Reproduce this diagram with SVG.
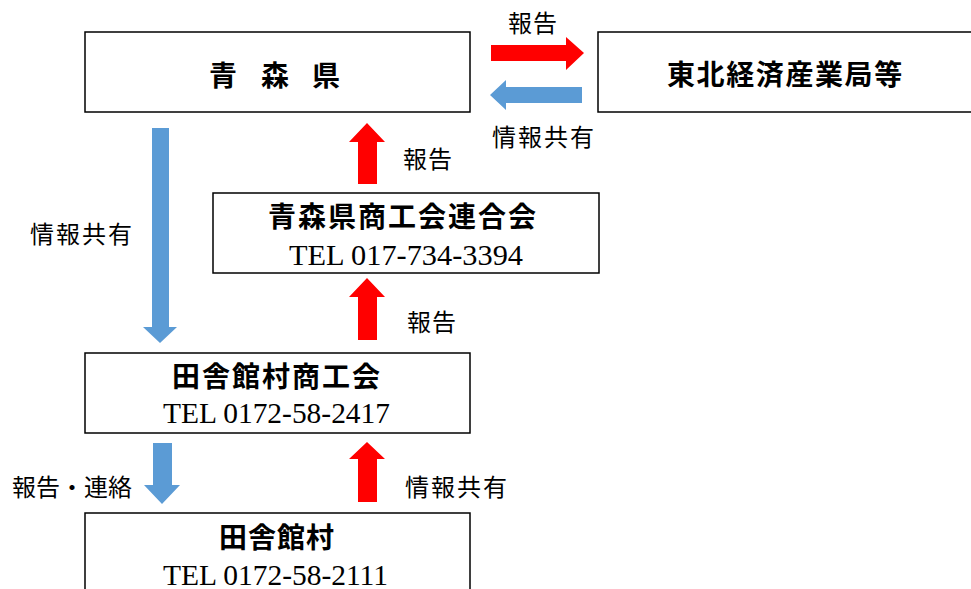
<svg xmlns="http://www.w3.org/2000/svg" width="971" height="589" viewBox="0 0 971 589">
<style>
.box{fill:#fff;stroke:#000;stroke-width:1.5}
.title{font-family:"Noto Sans CJK JP","Noto Sans CJK SC",sans-serif;font-weight:700;font-size:28px;fill:#000;dominant-baseline:central}
.tel{font-family:"Liberation Serif",serif;font-size:30px;fill:#000}
.lbl{font-family:"Noto Sans CJK JP","Noto Sans CJK SC",sans-serif;font-size:24px;fill:#000;dominant-baseline:central}
.red{fill:#FF0000}
.blue{fill:#5B9BD5}
</style>
<rect width="971" height="589" fill="#fff"/>
<g id="connectors">
<polygon class="red" points="491,45 566,45 566,37 584,53 566,70 566,61 491,61"/>
<polygon class="blue" points="582,87 506,87 506,80 490,95 506,110 506,103 582,103"/>
<polygon class="blue" points="152,128 169,128 169,327 177,327 160,343 143,327 152,327"/>
<polygon class="red" points="358,184 358,142 349,142 367,123 385,142 377,142 377,184"/>
<polygon class="red" points="358,340 358,297 349,297 367,278 385,297 377,297 377,340"/>
<polygon class="blue" points="153,443 172,443 172,485 180,485 162,504 144,485 153,485"/>
<polygon class="red" points="358,502 358,459 349,459 367,442 385,459 377,459 377,502"/>
<text class="lbl" x="508" y="21" letter-spacing="1">報告</text>
<text class="lbl" x="492" y="135" letter-spacing="2">情報共有</text>
<text class="lbl" x="403" y="157" letter-spacing="1">報告</text>
<text class="lbl" x="407" y="320" letter-spacing="1">報告</text>
<text class="lbl" x="30" y="232" letter-spacing="2">情報共有</text>
<text class="lbl" x="12" y="485">報告・連絡</text>
<text class="lbl" x="405" y="485" letter-spacing="2">情報共有</text>
</g>
<g id="aomori-ken">
<rect class="box" x="85" y="32" width="385" height="80"/>
<text class="title" x="209 237 261 289 312" y="74">青 森 県</text>
</g>
<g id="tohoku">
<rect class="box" x="598" y="32" width="390" height="80"/>
<text class="title" x="667" y="73" letter-spacing="1.6">東北経済産業局等</text>
</g>
<g id="rengokai">
<rect class="box" x="213" y="193" width="386" height="80"/>
<text class="title" x="268" y="215" letter-spacing="2">青森県商工会連合会</text>
<text class="tel" x="289" y="265" textLength="234" lengthAdjust="spacingAndGlyphs">TEL 017-734-3394</text>
</g>
<g id="shokokai">
<rect class="box" x="85" y="353" width="385" height="80"/>
<text class="title" x="172" y="375" letter-spacing="2">田舎館村商工会</text>
<text class="tel" x="163" y="423" textLength="227" lengthAdjust="spacingAndGlyphs">TEL 0172-58-2417</text>
</g>
<g id="village">
<rect class="box" x="85" y="513" width="385" height="90"/>
<text class="title" x="219" y="536" letter-spacing="1">田舎館村</text>
<text class="tel" x="163" y="585" textLength="225" lengthAdjust="spacingAndGlyphs">TEL 0172-58-2111</text>
</g>
</svg>
